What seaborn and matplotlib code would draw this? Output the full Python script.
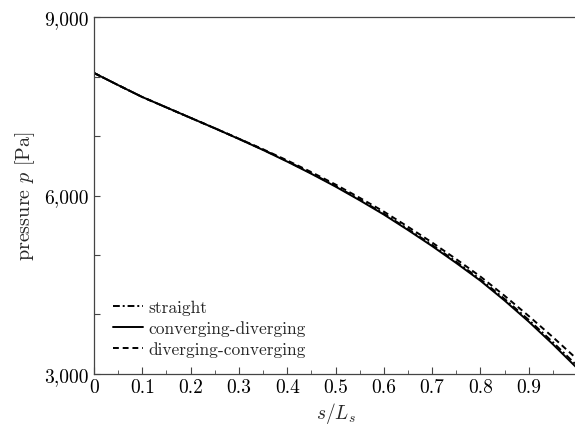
"""
plot.py
pressure along the duct for three channel shapes.
"""

import matplotlib
matplotlib.use("Agg")
import matplotlib.pyplot as plt
import matplotlib.ticker as mticker
import seaborn as sns
import pandas as pd

s_norm = [0.0, 0.05, 0.1, 0.15, 0.2, 0.25, 0.3, 0.35, 0.4, 0.45, 0.5,
          0.55, 0.6, 0.65, 0.7, 0.75, 0.8, 0.85, 0.9, 0.95, 1.0]
p_straight = [8060, 7855, 7655, 7480, 7305, 7132, 6953, 6770, 6577, 6374, 6161,
              5933, 5695, 5437, 5170, 4887, 4592, 4262, 3910, 3535, 3140]
p_conv_div = [8060, 7855, 7655, 7480, 7305, 7130, 6950, 6765, 6570, 6365, 6150,
              5920, 5680, 5420, 5150, 4865, 4568, 4235, 3880, 3500, 3100]
p_div_conv = [8060, 7855, 7655, 7480, 7305, 7130, 6955, 6777, 6590, 6393, 6185,
              5962, 5730, 5475, 5210, 4930, 4638, 4315, 3975, 3620, 3250]

series_labels = ["straight", "converging-diverging", "diverging-converging"]
xtick_values = [0, 0.1, 0.2, 0.3, 0.4, 0.5, 0.6, 0.7, 0.8, 0.9]
xtick_labels = ["0", "0.1", "0.2", "0.3", "0.4", "0.5", "0.6", "0.7", "0.8", "0.9"]
ytick_values = [3000, 6000, 9000]


def run():
    sns.set_style("ticks")
    plt.rcParams["font.family"] = "serif"
    plt.rcParams["font.serif"] = ["cmr10", "DejaVu Serif"]
    plt.rcParams["mathtext.fontset"] = "cm"
    plt.rcParams["axes.formatter.use_mathtext"] = True

    df = pd.DataFrame({
        "s": s_norm * 3,
        "p": p_straight + p_conv_div + p_div_conv,
        "case": [series_labels[0]] * len(s_norm) + [series_labels[1]] * len(s_norm)
                + [series_labels[2]] * len(s_norm),
    })

    fig = plt.figure(figsize=(5.75, 4.27), dpi=100)
    ax = fig.add_axes([0.1635, 0.1218, 0.8400, 0.8360])

    styles = {
        series_labels[0]: (0, (3.5, 1.5, 1, 1.5)),
        series_labels[1]: "-",
        series_labels[2]: (0, (3, 2)),
    }
    for name in series_labels:
        sns.lineplot(data=df[df["case"] == name], x="s", y="p", ax=ax, color="black",
                     linewidth=1.4, linestyle=styles[name], label=name)

    ax.set_xlim(0, 1)
    ax.set_ylim(3000, 9000)
    ax.set_xticks(xtick_values)
    ax.set_xticklabels(xtick_labels)
    ax.xaxis.set_minor_locator(mticker.MultipleLocator(0.05))
    ax.set_yticks(ytick_values)
    ax.yaxis.set_major_formatter(mticker.StrMethodFormatter("{x:,.0f}"))
    ax.yaxis.set_minor_locator(mticker.MultipleLocator(1000))

    ax.tick_params(which="both", direction="in", colors="#444444", labelcolor="black",
                   labelsize=14, top=False, right=False)
    ax.tick_params(axis="x", which="major", length=5, width=0.8, pad=3)
    ax.tick_params(axis="x", which="minor", length=3, width=0.6)
    ax.tick_params(axis="y", which="both", length=4.5, width=0.8, pad=4)
    for side in ["left", "bottom", "top", "right"]:
        ax.spines[side].set_color("#444444")
        ax.spines[side].set_linewidth(0.9)

    ax.set_xlabel(r"$s/L_s$", fontsize=14, labelpad=3)
    ax.set_ylabel(r"pressure $p$ [Pa]", fontsize=14.5, labelpad=5)

    ax.legend(loc="lower left", bbox_to_anchor=(0.04, 0.048), frameon=False, fontsize=12.5,
              handlelength=1.7, handletextpad=0.3, labelspacing=0.3,
              borderpad=0, borderaxespad=0)

    plt.savefig("out.png", dpi=100)
    plt.close()


if __name__ == "__main__":
    run()
